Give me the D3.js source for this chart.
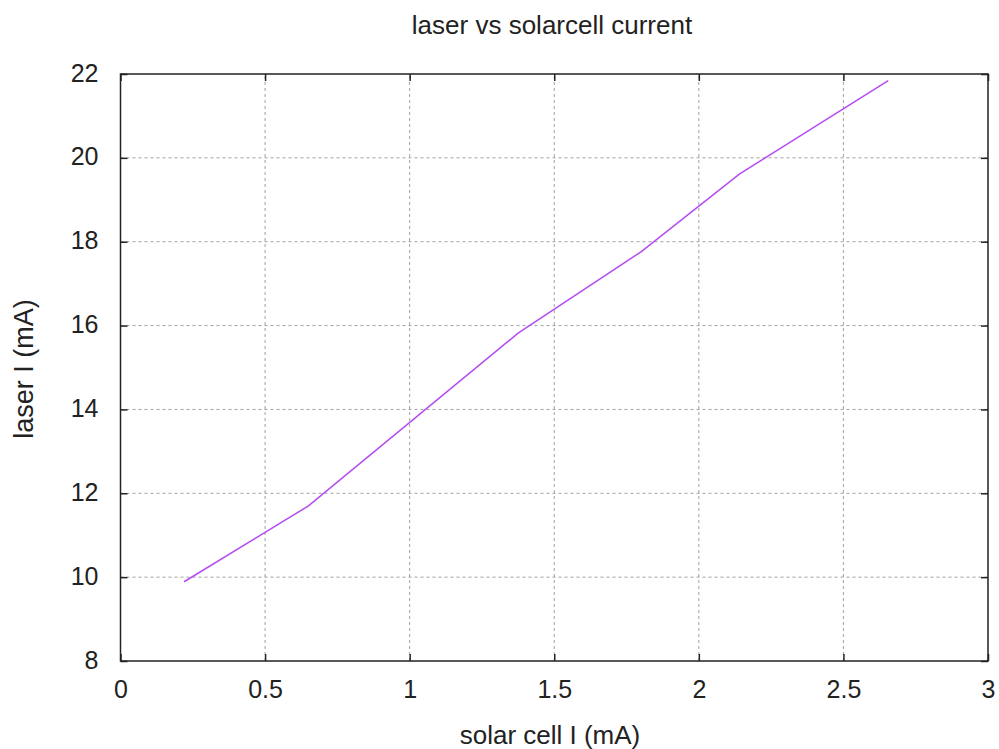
<!DOCTYPE html>
<html><head><meta charset="utf-8">
<script src="https://cdn.jsdelivr.net/npm/d3@7"></script>
<style>body{margin:0;background:#fff;} svg{display:block;} text{font-family:"Liberation Sans",Arial,sans-serif;fill:#222;}</style>
</head><body>
<svg id="c" width="999" height="749"></svg>
<script>
const solarCell = [0.22, 0.65, 1.375, 1.8, 2.14, 2.655];
const laser = [9.89, 11.70, 15.82, 17.76, 19.61, 21.84];
const xTicks = [0, 0.5, 1, 1.5, 2, 2.5, 3];
const yTicks = [8, 10, 12, 14, 16, 18, 20, 22];
const title = "laser vs solarcell current";
const xLabel = "solar cell I (mA)";
const yLabel = "laser I (mA)";

(function () {
const svg = d3.select("#c");
const L = 120.5, R = 988, T = 74, B = 661;
const x = d3.scaleLinear().domain([0, 3]).range([L, R]);
const y = d3.scaleLinear().domain([8, 22]).range([B, T]);

// grid
const g = svg.append("g").attr("stroke", "#a0a0a0").attr("stroke-dasharray", "3,3").attr("stroke-width", 1);
xTicks.slice(1, -1).forEach(v => g.append("line").attr("x1", x(v)).attr("x2", x(v)).attr("y1", B).attr("y2", T));
yTicks.slice(1, -1).forEach(v => g.append("line").attr("y1", y(v)).attr("y2", y(v)).attr("x1", L).attr("x2", R));

// axes with inward ticks
const tl = 7;
const axB = svg.append("g").attr("transform", `translate(0,${B})`)
  .call(d3.axisBottom(x).tickValues(xTicks).tickSize(-tl).tickPadding(19).tickFormat(d3.format("")));
const axT = svg.append("g").attr("transform", `translate(0,${T})`)
  .call(d3.axisTop(x).tickValues(xTicks).tickSize(-tl).tickFormat(""));
const axL = svg.append("g").attr("transform", `translate(${L},0)`)
  .call(d3.axisLeft(y).tickValues(yTicks).tickSize(-tl).tickPadding(22).tickFormat(d3.format("")));
const axR = svg.append("g").attr("transform", `translate(${R},0)`)
  .call(d3.axisRight(y).tickValues(yTicks).tickSize(-tl).tickFormat(""));
[axB, axT, axL, axR].forEach(a => {
  a.select(".domain").remove();
  a.selectAll(".tick line").attr("stroke", "#222").attr("stroke-width", 1.5);
  a.selectAll("text").attr("font-size", 25).attr("fill", "#222").attr("font-family", '"Liberation Sans",Arial,sans-serif');
});
axL.selectAll("text").attr("dy", "0.28em");

// frame
svg.append("rect").attr("x", L).attr("y", T).attr("width", R - L).attr("height", B - T)
  .attr("fill", "none").attr("stroke", "#222").attr("stroke-width", 1.5);

// line
const data = solarCell.map((v, i) => [v, laser[i]]);
svg.append("path").datum(data)
  .attr("d", d3.line().x(d => x(d[0])).y(d => y(d[1])))
  .attr("fill", "none").attr("stroke", "#b44cf0").attr("stroke-width", 1.5);

// labels
svg.append("text").attr("x", 552).attr("y", 34).attr("text-anchor", "middle").attr("font-size", 26).text(title);
svg.append("text").attr("x", 550).attr("y", 744).attr("text-anchor", "middle").attr("font-size", 26).text(xLabel);
svg.append("text").attr("transform", `translate(33,369) rotate(-90)`).attr("text-anchor", "middle").attr("font-size", 27).text(yLabel);
})();
</script>
</body></html>
